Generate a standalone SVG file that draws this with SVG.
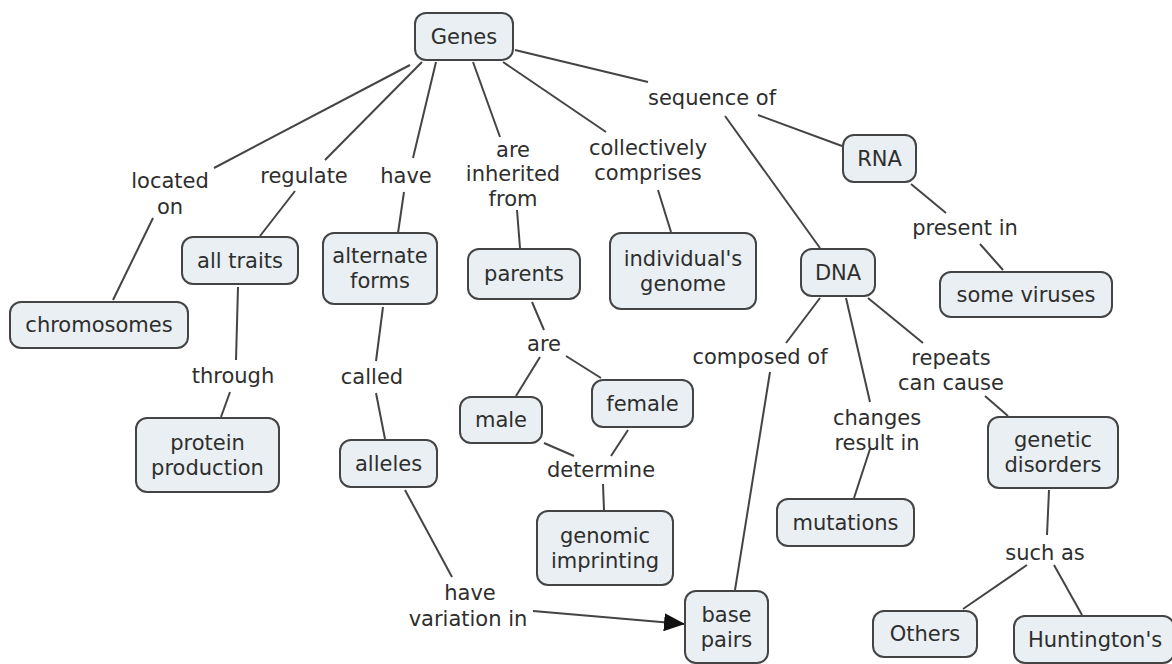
<svg xmlns="http://www.w3.org/2000/svg" width="1172" height="664" viewBox="0 0 1172 664">
<defs>
<style>
.n rect{fill:#e9eff2;stroke:#444;stroke-width:2}
text{font-family:"DejaVu Sans","Verdana",sans-serif;font-size:21px;fill:#2e2e2e;text-anchor:middle}
#connectors line{stroke:#444;stroke-width:2}
</style>
<marker id="ah" markerWidth="21" markerHeight="18" refX="20" refY="9" orient="auto" markerUnits="userSpaceOnUse">
<path d="M0,0 L21,9 L0,18 Z" fill="#111"/>
</marker>
</defs>
<rect width="1172" height="664" fill="#fff"/>
<g id="connectors">
<line x1="410" y1="65" x2="214" y2="168"/>
<line x1="153" y1="218" x2="113" y2="300"/>
<line x1="422" y1="62" x2="325" y2="160"/>
<line x1="295" y1="191" x2="260" y2="236"/>
<line x1="436" y1="62" x2="413" y2="158"/>
<line x1="404" y1="192" x2="398" y2="233"/>
<line x1="473" y1="62" x2="500" y2="137"/>
<line x1="517" y1="210" x2="520" y2="248"/>
<line x1="503" y1="62" x2="606" y2="132"/>
<line x1="658" y1="190" x2="671" y2="232"/>
<line x1="515" y1="50" x2="648" y2="82"/>
<line x1="758" y1="115" x2="842" y2="146"/>
<line x1="725" y1="116" x2="820" y2="248"/>
<line x1="911" y1="184" x2="946" y2="213"/>
<line x1="980" y1="244" x2="1003" y2="270"/>
<line x1="820" y1="298" x2="786" y2="343"/>
<line x1="770" y1="372" x2="735" y2="590"/>
<line x1="846" y1="298" x2="870" y2="402"/>
<line x1="870" y1="449" x2="854" y2="498"/>
<line x1="868" y1="298" x2="923" y2="343"/>
<line x1="985" y1="396" x2="1008" y2="416"/>
<line x1="1049" y1="490" x2="1047" y2="535"/>
<line x1="1027" y1="565" x2="963" y2="609"/>
<line x1="1054" y1="565" x2="1082" y2="615"/>
<line x1="238" y1="287" x2="236" y2="360"/>
<line x1="230" y1="392" x2="221" y2="417"/>
<line x1="383" y1="307" x2="376" y2="361"/>
<line x1="376" y1="393" x2="385" y2="439"/>
<line x1="532" y1="302" x2="544" y2="330"/>
<line x1="540" y1="357" x2="516" y2="396"/>
<line x1="566" y1="356" x2="601" y2="378"/>
<line x1="544" y1="443" x2="574" y2="456"/>
<line x1="628" y1="430" x2="611" y2="456"/>
<line x1="603" y1="484" x2="604" y2="510"/>
<line x1="405" y1="490" x2="452" y2="577"/>
<line x1="533" y1="611" x2="684" y2="624" marker-end="url(#ah)"/>
</g>
<g id="labels">
<text x="170" y="188">located</text>
<text x="170" y="214">on</text>
<text x="304" y="183">regulate</text>
<text x="406" y="183">have</text>
<text x="513" y="157">are</text>
<text x="513" y="181">inherited</text>
<text x="513" y="206">from</text>
<text x="648" y="155">collectively</text>
<text x="648" y="180">comprises</text>
<text x="712" y="105">sequence of</text>
<text x="965" y="235">present in</text>
<text x="760" y="364">composed of</text>
<text x="877" y="425">changes</text>
<text x="877" y="450">result in</text>
<text x="951" y="365">repeats</text>
<text x="951" y="390">can cause</text>
<text x="1045" y="560">such as</text>
<text x="233" y="383">through</text>
<text x="372" y="384">called</text>
<text x="544" y="351">are</text>
<text x="601" y="477">determine</text>
<text x="470" y="600">have</text>
<text x="468" y="626">variation in</text>
</g>
<g id="genes" class="n"><rect x="415" y="13" width="98" height="47" rx="11"/><text x="464" y="44">Genes</text></g>
<g id="rna" class="n"><rect x="843" y="135" width="73" height="47" rx="11"/><text x="879.5" y="166">RNA</text></g>
<g id="dna" class="n"><rect x="801" y="249" width="74" height="47" rx="11"/><text x="838" y="280">DNA</text></g>
<g id="some-viruses" class="n"><rect x="940" y="272" width="172" height="45" rx="11"/><text x="1026" y="302">some viruses</text></g>
<g id="chromosomes" class="n"><rect x="10" y="302" width="178" height="46" rx="11"/><text x="99" y="332">chromosomes</text></g>
<g id="all-traits" class="n"><rect x="182" y="237" width="116" height="47" rx="11"/><text x="240" y="268">all traits</text></g>
<g id="alternate-forms" class="n"><rect x="323" y="233" width="114" height="71" rx="11"/><text x="380" y="263">alternate</text><text x="380" y="288">forms</text></g>
<g id="protein-production" class="n"><rect x="136" y="418" width="143" height="74" rx="11"/><text x="207.5" y="450">protein</text><text x="207.5" y="475">production</text></g>
<g id="alleles" class="n"><rect x="340" y="440" width="97" height="47" rx="11"/><text x="388.5" y="471">alleles</text></g>
<g id="parents" class="n"><rect x="468" y="249" width="112" height="50" rx="11"/><text x="524" y="281">parents</text></g>
<g id="individuals-genome" class="n"><rect x="610" y="233" width="146" height="76" rx="11"/><text x="683" y="266">individual's</text><text x="683" y="291">genome</text></g>
<g id="female" class="n"><rect x="592" y="380" width="101" height="47" rx="11"/><text x="642.5" y="411">female</text></g>
<g id="male" class="n"><rect x="460" y="397" width="82" height="46" rx="11"/><text x="501" y="427">male</text></g>
<g id="genomic-imprinting" class="n"><rect x="537" y="511" width="136" height="74" rx="11"/><text x="605" y="543">genomic</text><text x="605" y="568">imprinting</text></g>
<g id="base-pairs" class="n"><rect x="685" y="591" width="83" height="72" rx="11"/><text x="726.5" y="622">base</text><text x="726.5" y="647">pairs</text></g>
<g id="mutations" class="n"><rect x="777" y="499" width="137" height="47" rx="11"/><text x="845.5" y="530">mutations</text></g>
<g id="genetic-disorders" class="n"><rect x="988" y="417" width="130" height="71" rx="11"/><text x="1053" y="447">genetic</text><text x="1053" y="472">disorders</text></g>
<g id="others" class="n"><rect x="873" y="611" width="104" height="46" rx="11"/><text x="925" y="641">Others</text></g>
<g id="huntingtons" class="n"><rect x="1014" y="616" width="160" height="47" rx="11"/><text x="1095" y="647">Huntington's</text></g>
</svg>
